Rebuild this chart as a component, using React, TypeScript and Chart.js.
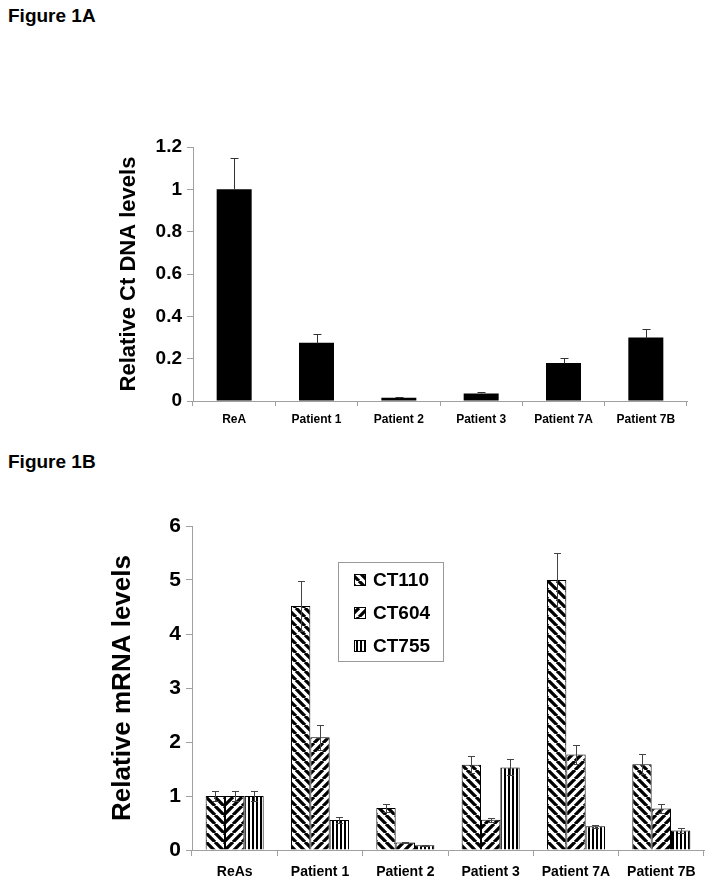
import React, { useEffect, useRef } from "react";
import { Chart, registerables } from "chart.js";

Chart.register(...registerables);

// ---------- Data: Figure 1A ----------
const categoriesA = ["ReA", "Patient 1", "Patient 2", "Patient 3", "Patient 7A", "Patient 7B"];
const valuesA = [1.0, 0.275, 0.015, 0.036, 0.18, 0.3];
const errorsA = [0.15, 0.042, 0.005, 0.008, 0.023, 0.042];
const yTicksA = [0, 0.2, 0.4, 0.6, 0.8, 1, 1.2];

// ---------- Data: Figure 1B ----------
const categoriesB = ["ReAs", "Patient 1", "Patient 2", "Patient 3", "Patient 7A", "Patient 7B"];
const seriesNamesB = ["CT110", "CT604", "CT755"];
const ct110 = [1.0, 4.52, 0.78, 1.58, 5.0, 1.59];
const ct110Err = [0.1, 0.46, 0.08, 0.16, 0.5, 0.18];
const ct604 = [1.0, 2.09, 0.14, 0.56, 1.77, 0.77];
const ct604Err = [0.1, 0.23, 0.01, 0.04, 0.17, 0.09];
const ct755 = [1.0, 0.555, 0.09, 1.53, 0.44, 0.36];
const ct755Err = [0.1, 0.05, 0.01, 0.15, 0.03, 0.04];
const yTicksB = [0, 1, 2, 3, 4, 5, 6];

const FONT = '"Liberation Sans", Arial, Helvetica, sans-serif';

function makePattern(kind: "back" | "fwd" | "vert"): CanvasPattern {
  const c = document.createElement("canvas");
  const ctx = c.getContext("2d")!;
  if (kind === "vert") {
    c.width = 4;
    c.height = 4;
    ctx.fillStyle = "#fff";
    ctx.fillRect(0, 0, 4, 4);
    ctx.fillStyle = "#000";
    ctx.fillRect(0, 0, 2, 4);
  } else {
    const s = 9;
    c.width = s;
    c.height = s;
    ctx.fillStyle = "#fff";
    ctx.fillRect(0, 0, s, s);
    ctx.strokeStyle = "#000";
    ctx.lineWidth = 3.3;
    ctx.beginPath();
    for (let k = -1; k <= 1; k++) {
      if (kind === "back") {
        ctx.moveTo(k * s, 0);
        ctx.lineTo(k * s + s, s);
      } else {
        ctx.moveTo(k * s, s);
        ctx.lineTo(k * s + s, 0);
      }
    }
    ctx.stroke();
  }
  return ctx.createPattern(c, "repeat")!;
}

const errorBarPlugin = {
  id: "errorBars",
  afterDatasetsDraw(chart: any, _args: any, opts: any) {
    const ctx = chart.ctx;
    const y = chart.scales.y;
    ctx.save();
    ctx.strokeStyle = opts.color || "#444";
    ctx.lineWidth = 1;
    chart.data.datasets.forEach((ds: any, i: number) => {
      const errs = ds.errors;
      if (!errs) return;
      const meta = chart.getDatasetMeta(i);
      meta.data.forEach((el: any, j: number) => {
        const v = ds.data[j];
        const e = errs[j];
        const x = Math.round(el.x) + 0.5;
        const yt = Math.round(y.getPixelForValue(v + e)) + 0.5;
        const yb = opts.upOnly
          ? Math.round(y.getPixelForValue(v)) + 0.5
          : Math.round(y.getPixelForValue(Math.max(0, v - e))) + 0.5;
        const hw = (opts.capWidth || 8) / 2;
        ctx.beginPath();
        ctx.moveTo(x, yt);
        ctx.lineTo(x, yb);
        ctx.moveTo(x - hw, yt);
        ctx.lineTo(x + hw, yt);
        if (!opts.upOnly) {
          ctx.moveTo(x - hw, yb);
          ctx.lineTo(x + hw, yb);
        }
        ctx.stroke();
      });
    });
    ctx.restore();
  },
};

const boxLegendPlugin = {
  id: "boxLegend",
  afterDraw(chart: any, _a: any, opts: any) {
    if (!opts || !opts.show) return;
    const { ctx, chartArea } = chart;
    const x0 = Math.round(chartArea.left + opts.offsetX);
    const y0 = Math.round(chartArea.top + opts.offsetY);
    ctx.save();
    ctx.fillStyle = "#fff";
    ctx.fillRect(x0, y0, opts.width, opts.height);
    ctx.strokeStyle = "#999";
    ctx.lineWidth = 1;
    ctx.strokeRect(x0 + 0.5, y0 + 0.5, opts.width, opts.height);
    chart.data.datasets.forEach((ds: any, i: number) => {
      const cy = Math.round(y0 + opts.firstRow + i * opts.rowGap);
      const sx = x0 + opts.swatchX;
      ctx.fillStyle = ds.backgroundColor;
      ctx.fillRect(sx, cy - 6, 12, 12);
      ctx.strokeStyle = "#000";
      ctx.strokeRect(sx + 0.5, cy - 5.5, 11, 11);
      ctx.fillStyle = "#000";
      ctx.font = `bold 19px ${FONT}`;
      ctx.textBaseline = "middle";
      ctx.textAlign = "left";
      ctx.fillText(ds.label, x0 + opts.textX, cy + 1);
    });
    ctx.restore();
  },
};

function ChartA() {
  const ref = useRef<HTMLCanvasElement>(null);
  useEffect(() => {
    const chart = new Chart(ref.current!, {
      type: "bar",
      data: {
        labels: categoriesA,
        datasets: [
          {
            label: "Relative Ct DNA levels",
            data: valuesA,
            errors: errorsA,
            backgroundColor: "#000",
            borderColor: "#000",
            borderWidth: 0,
            categoryPercentage: 0.425,
            barPercentage: 1,
          } as any,
        ],
      },
      options: {
        responsive: false,
        animation: false,
        devicePixelRatio: 1,
        layout: { padding: { left: 0, top: 27, right: 13, bottom: 0 } },
        plugins: {
          legend: { display: false },
          tooltip: { enabled: false },
          errorBars: { color: "#333", capWidth: 8, upOnly: true },
        } as any,
        scales: {
          x: {
            afterFit: (s: any) => {
              s.height = 39;
            },
            border: { display: true, color: "#a0a0a0", width: 1 },
            grid: { display: true, drawOnChartArea: false, color: "#a0a0a0", tickLength: 5, offset: true },
            ticks: {
              color: "#000",
              font: { family: FONT, size: 12, weight: "bold" },
              padding: 6,
              maxRotation: 0,
              autoSkip: false,
            },
          },
          y: {
            min: 0,
            max: 1.2,
            afterFit: (s: any) => {
              s.width = 103;
            },
            afterBuildTicks: (s: any) => {
              s.ticks = yTicksA.map((value) => ({ value }));
            },
            border: { display: true, color: "#a0a0a0", width: 1 },
            grid: { display: true, drawOnChartArea: false, color: "#a0a0a0", tickLength: 6 },
            ticks: {
              color: "#000",
              font: { family: FONT, size: 19, weight: "bold" },
              padding: 5,
              callback: (v: any) => String(v),
            },
            title: {
              display: true,
              text: "Relative Ct DNA levels",
              color: "#000",
              font: { family: FONT, size: 22, weight: "bold" },
              padding: { top: 26, bottom: 0 },
            },
          },
        },
      },
      plugins: [errorBarPlugin],
    });
    return () => chart.destroy();
  }, []);
  return (
    <canvas
      ref={ref}
      width={610}
      height={320}
      style={{ position: "absolute", left: 90, top: 120, width: 610, height: 320 }}
    />
  );
}

function ChartB() {
  const ref = useRef<HTMLCanvasElement>(null);
  useEffect(() => {
    const patterns = [makePattern("back"), makePattern("fwd"), makePattern("vert")];
    const seriesValues = [ct110, ct604, ct755];
    const seriesErrors = [ct110Err, ct604Err, ct755Err];
    const chart = new Chart(ref.current!, {
      type: "bar",
      data: {
        labels: categoriesB,
        datasets: seriesNamesB.map(
          (name, i) =>
            ({
              label: name,
              data: seriesValues[i],
              errors: seriesErrors[i],
              backgroundColor: patterns[i],
              borderColor: "#000",
              borderWidth: 1,
              categoryPercentage: 0.68,
              barPercentage: 1,
            }) as any
        ),
      },
      options: {
        responsive: false,
        animation: false,
        devicePixelRatio: 1,
        layout: { padding: { left: 0, top: 26, right: 6, bottom: 0 } },
        plugins: {
          legend: { display: false },
          tooltip: { enabled: false },
          errorBars: { color: "#444", capWidth: 7 },
          boxLegend: {
            show: true,
            offsetX: 146,
            offsetY: 36,
            width: 105,
            height: 99,
            swatchX: 16,
            textX: 35,
            firstRow: 18,
            rowGap: 33,
          },
        } as any,
        scales: {
          x: {
            afterFit: (s: any) => {
              s.height = 37;
            },
            border: { display: true, color: "#a0a0a0", width: 1 },
            grid: { display: true, drawOnChartArea: false, color: "#a0a0a0", tickLength: 6, offset: true },
            ticks: {
              color: "#000",
              font: { family: FONT, size: 14, weight: "bold" },
              padding: 8,
              maxRotation: 0,
              autoSkip: false,
            },
          },
          y: {
            min: 0,
            max: 6,
            afterFit: (s: any) => {
              s.width = 112;
            },
            afterBuildTicks: (s: any) => {
              s.ticks = yTicksB.map((value) => ({ value }));
            },
            border: { display: true, color: "#a0a0a0", width: 1 },
            grid: { display: true, drawOnChartArea: false, color: "#a0a0a0", tickLength: 6 },
            ticks: {
              color: "#000",
              font: { family: FONT, size: 21, weight: "bold" },
              padding: 5,
              callback: (v: any) => String(v),
            },
            title: {
              display: true,
              text: "Relative mRNA levels",
              color: "#000",
              font: { family: FONT, size: 26, weight: "bold" },
              padding: { top: 27, bottom: 0 },
            },
          },
        },
      },
      plugins: [errorBarPlugin, boxLegendPlugin],
    });
    return () => chart.destroy();
  }, []);
  return (
    <canvas
      ref={ref}
      width={630}
      height={387}
      style={{ position: "absolute", left: 80, top: 500, width: 630, height: 387 }}
    />
  );
}

export default function App() {
  const titleStyle: React.CSSProperties = {
    position: "absolute",
    left: 8,
    fontFamily: FONT,
    fontWeight: "bold",
    fontSize: 19,
    color: "#000",
    whiteSpace: "nowrap",
  };
  return (
    <div
      style={{
        position: "absolute",
        left: 0,
        top: 0,
        width: 714,
        height: 887,
        background: "#fff",
        overflow: "hidden",
      }}
    >
      <div style={{ ...titleStyle, top: 5 }}>Figure 1A</div>
      <ChartA />
      <div style={{ ...titleStyle, top: 451 }}>Figure 1B</div>
      <ChartB />
    </div>
  );
}
